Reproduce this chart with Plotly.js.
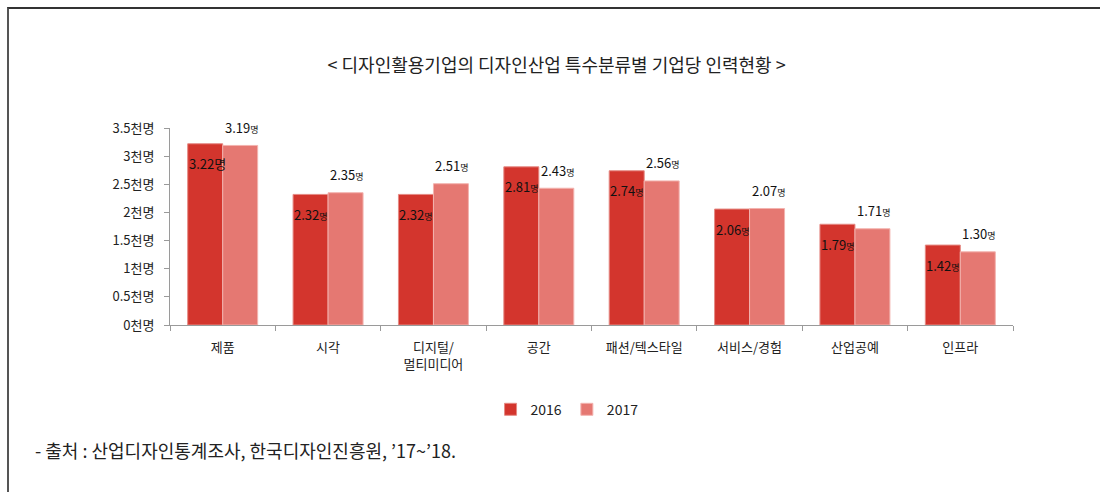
<!DOCTYPE html>
<html>
<head>
<meta charset="utf-8">
<script src="https://cdn.plot.ly/plotly-3.0.1.min.js"></script>
<style>
  html, body { margin: 0; padding: 0; background: #fff; }
  #wrap { position: relative; width: 1100px; height: 492px; }
  #chart { width: 1100px; height: 492px; }
  #frame { position: absolute; left: 7px; top: 7px; width: 1093px; height: 485px;
           border-top: 2px solid #333; border-left: 2px solid #555; box-sizing: border-box; pointer-events: none; }
</style>
</head>
<body>
<div id="wrap">
  <div id="chart"></div>
  <div id="frame"></div>
</div>
<script>
const categories = ['제품', '시각', '디지털/<br>멀티미디어', '공간', '패션/텍스타일', '서비스/경험', '산업공예', '인프라'];
const values2016 = [3.22, 2.32, 2.32, 2.81, 2.74, 2.06, 1.79, 1.42];
const values2017 = [3.19, 2.35, 2.51, 2.43, 2.56, 2.07, 1.71, 1.30];
const seriesNames = ['2016', '2017'];
const yTickVals = [0, 0.5, 1, 1.5, 2, 2.5, 3, 3.5];
const yTickText = ['0천명', '0.5천명', '1천명', '1.5천명', '2천명', '2.5천명', '3천명', '3.5천명'];
const titleText = '&lt; 디자인활용기업의 디자인산업 특수분류별 기업당 인력현황 &gt;';
const sourceText = '- 출처 : 산업디자인통계조사, 한국디자인진흥원, ’17~’18.';

const FONT = '"Noto Sans CJK KR", "Noto Sans", sans-serif';
const c2016 = '#D3352D';
const c2017 = '#E57872';

function label(v, bigUnit) {
  return v.toFixed(2) + (bigUnit ? '명' : '<span style="font-size:9px">명</span>');
}

const traces = [
  { type: 'bar', name: seriesNames[0], x: categories, y: values2016,
    marker: { color: c2016, line: { color: '#E58A84', width: 1 } }, hoverinfo: 'none' },
  { type: 'bar', name: seriesNames[1], x: categories, y: values2017,
    marker: { color: c2017, line: { color: '#F3B3AF', width: 1 } }, hoverinfo: 'none' }
];

const annotations = [];
categories.forEach((c, i) => {
  annotations.push({ x: c, y: values2016[i], xref: 'x', yref: 'y', text: label(values2016[i], i === 0),
    showarrow: false, xanchor: 'left', yanchor: 'middle', xshift: -36, yshift: -20,
    font: { family: FONT, size: 13, color: '#111' } });
  annotations.push({ x: c, y: values2017[i], xref: 'x', yref: 'y', text: label(values2017[i], false),
    showarrow: false, xanchor: 'center', yanchor: 'middle', xshift: 19, yshift: 18,
    font: { family: FONT, size: 13, color: '#111' } });
});
annotations.push({ x: -0.1625, y: -0.635, xref: 'paper', yref: 'paper', text: sourceText,
  showarrow: false, xanchor: 'left', yanchor: 'middle',
  font: { family: FONT, size: 18, color: '#222' } });

const layout = {
  width: 1100, height: 492,
  margin: { l: 170, r: 87, t: 128, b: 167 },
  paper_bgcolor: '#fff', plot_bgcolor: '#fff',
  font: { family: FONT, size: 13, color: '#222' },
  title: { text: titleText, x: 0.506, xanchor: 'center', y: 0.866, yanchor: 'middle', xref: 'container', yref: 'container',
    font: { family: FONT, size: 18, color: '#222' } },
  barmode: 'group', bargap: 0.336, bargroupgap: 0,
  showlegend: true,
  legend: { orientation: 'h', x: 0.471, xanchor: 'center', y: -0.43, yanchor: 'middle',
    font: { family: FONT, size: 14, color: '#222' }, itemwidth: 30 },
  xaxis: { type: 'category', showline: true, linecolor: '#9a9a9a', linewidth: 1,
    ticks: 'outside', tickson: 'boundaries', ticklen: 5, tickcolor: '#9a9a9a',
    ticklabelstandoff: 10, showgrid: false, zeroline: false,
    tickfont: { family: FONT, size: 13, color: '#222' } },
  yaxis: { range: [0, 3.5], tickvals: yTickVals, ticktext: yTickText,
    showline: true, linecolor: '#9a9a9a', linewidth: 1, ticks: 'outside', ticklen: 5, tickcolor: '#9a9a9a',
    ticklabelstandoff: 7,
    showgrid: false, zeroline: false, tickfont: { family: FONT, size: 13, color: '#222' } },
  annotations: annotations
};

Plotly.newPlot('chart', traces, layout, { displayModeBar: false, staticPlot: true });
</script>
</body>
</html>
